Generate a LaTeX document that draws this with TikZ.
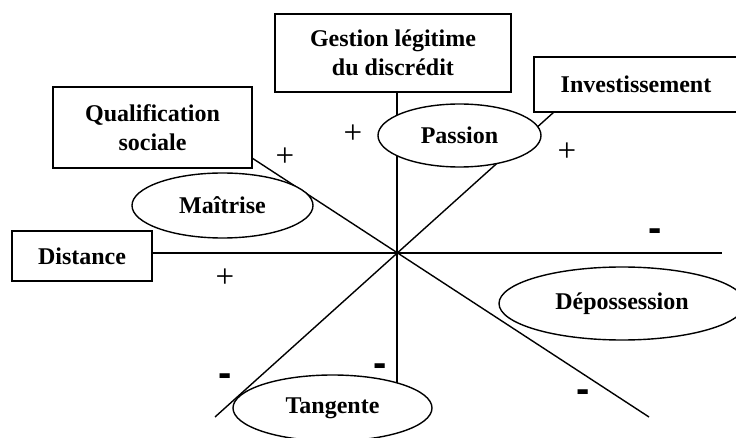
\documentclass[tikz,border=0pt]{standalone}
\usepackage{fontspec}
\setmainfont{Liberation Serif}
\newfontfamily\signfont{Liberation Sans}
\usetikzlibrary{shapes.geometric,backgrounds}
\tikzset{
  lbl/.style={font=\fontsize{24}{29}\selectfont\bfseries, align=center, inner sep=0pt},
  boxnode/.style={lbl, draw, line width=1.6pt, fill=white, rectangle},
  ellnode/.style={lbl, draw, line width=1.4pt, fill=white, ellipse},
  axis/.style={line width=1.4pt},
  plussign/.style={font=\fontsize{33}{35}\selectfont, inner sep=0pt},
  minussign/.style={font=\signfont\fontsize{40}{42}\selectfont\bfseries, inner sep=0pt}
}
\begin{document}
\begin{tikzpicture}[x=1pt,y=-1pt]
\useasboundingbox (0,0) rectangle (736,438);
% boxes
\node[boxnode, minimum width=199pt, minimum height=81pt] (qual) at (152.5,127.5) {Qualification\\sociale};
\node[boxnode, minimum width=236pt, minimum height=78pt] (gestion) at (393,53) {Gestion légitime\\du discrédit};
\node[boxnode, minimum width=204pt, minimum height=55pt] (invest) at (636,84.5) {Investissement};
\node[boxnode, minimum width=140pt, minimum height=50pt] (distance) at (82,256) {Distance};
% ellipses
\node[ellnode, minimum width=163pt, minimum height=63pt] (passion) at (459.5,135.5) {Passion};
\node[ellnode, minimum width=181pt, minimum height=65pt] (maitrise) at (222.5,205.5) {Maîtrise};
\node[ellnode, minimum width=199pt, minimum height=66pt] (tangente) at (332.5,408) {Tangente};
\node[ellnode, minimum width=246pt, minimum height=73pt] (deposs) at (622,303.5) {Dépossession};
% axes
\coordinate (O) at (397,253);
\coordinate (hend) at (722,253);
\coordinate (vend) at (397,384);
\coordinate (q1) at (252,158);
\coordinate (q2) at (649,417);
\coordinate (i1) at (554,112);
\coordinate (i2) at (215,417);
\begin{pgfonlayer}{background}
\draw[axis] (distance.east |- O) -- (hend);
\draw[axis] (gestion.south -| O) -- (vend);
\draw[axis] (q1) -- (q2);
\draw[axis] (i1) -- (i2);
\end{pgfonlayer}
% signs
\node[plussign] (p1) at (353,134) {+};
\node[plussign] (p2) at (285,157) {+};
\node[plussign] (p3) at (567,152) {+};
\node[plussign] (p4) at (225,278) {+};
\node[minussign] (m1) at (655,235) {-};
\node[minussign] (m2) at (225,380) {-};
\node[minussign] (m3) at (380,370) {-};
\node[minussign] (m4) at (583,396) {-};
\end{tikzpicture}
\end{document}
